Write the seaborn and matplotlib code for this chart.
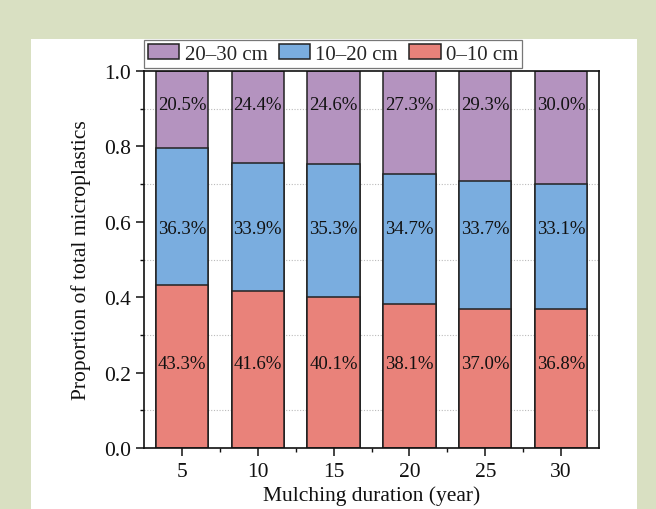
import numpy as np
import pandas as pd
import matplotlib
matplotlib.use("Agg")
import matplotlib.pyplot as plt
from matplotlib.patches import Patch, Rectangle
import seaborn as sns

# Mulching duration (years) and depth-layer shares of total microplastics
years = [5, 10, 15, 20, 25, 30]
share_0_10 = [0.433, 0.416, 0.401, 0.381, 0.370, 0.368]
share_10_20 = [0.363, 0.339, 0.353, 0.347, 0.337, 0.331]
share_20_30 = [0.205, 0.244, 0.246, 0.273, 0.293, 0.300]
layer_names = ["20\u201330 cm", "10\u201320 cm", "0\u201310 cm"]

colors = {"0-10": "#e9827a", "10-20": "#7aaddf", "20-30": "#b493bf"}

sns.set_theme(style="ticks")
plt.rcParams["font.family"] = ["Liberation Serif", "DejaVu Serif"]

fig = plt.figure(figsize=(6.56, 5.10), dpi=100, facecolor="#d9e0c2")
fig.patches.append(Rectangle((31 / 656, 0), (637 - 31) / 656, (510 - 40) / 510,
                             transform=fig.transFigure, facecolor="white",
                             edgecolor="none", zorder=-1))
ax = fig.add_axes([144 / 656, (510 - 449) / 510, (599 - 144) / 656, (449 - 72) / 510])
ax.set_facecolor("white")

df = pd.DataFrame({
    "year": years,
    "low": share_0_10,
    "mid": share_10_20,
    "high": share_20_30,
})
df["cum_mid"] = df["low"] + df["mid"]
df["cum_high"] = df["cum_mid"] + df["high"]

# stacked bars: draw cumulative totals back to front
for col, c in [("cum_high", colors["20-30"]), ("cum_mid", colors["10-20"]), ("low", colors["0-10"])]:
    sns.barplot(data=df, x="year", y=col, native_scale=True, width=0.69,
                color=c, saturation=1, edgecolor="#222222", linewidth=1.1,
                errorbar=None, ax=ax, zorder=2)

# percentage labels for each layer
lab_kw = dict(ha="center", va="center", fontsize=13.5, color="#111111", zorder=3)
for yr, a, b, c in zip(years, share_0_10, share_10_20, share_20_30):
    ax.text(yr, 0.225, f"{a * 100:.1f}%", **lab_kw)
    ax.text(yr, 0.581, f"{b * 100:.1f}%", **lab_kw)
    ax.text(yr, 0.910, f"{c * 100:.1f}%", **lab_kw)

ax.set_xlim(2.5, 32.5)
ax.set_ylim(0, 1.0)
ax.set_xticks(years)
ax.set_xticklabels([str(y) for y in years])
ax.set_xticks([7.5, 12.5, 17.5, 22.5, 27.5], minor=True)
ax.set_yticks([0.0, 0.2, 0.4, 0.6, 0.8, 1.0])
ax.set_yticklabels(["0.0", "0.2", "0.4", "0.6", "0.8", "1.0"])
ax.set_yticks([0.1, 0.3, 0.5, 0.7, 0.9], minor=True)

ax.grid(which="minor", axis="y", linestyle=(0, (1, 1.5)), color="#bbbbbb", linewidth=0.8, zorder=0)
ax.grid(which="major", visible=False)
ax.set_axisbelow(True)

for s in ax.spines.values():
    s.set_visible(True)
    s.set_color("#111111")
    s.set_linewidth(1.2)

ax.tick_params(axis="both", which="major", direction="out", length=6, width=1.1,
               labelsize=15.5, color="#111111", labelcolor="#111111")
ax.tick_params(axis="both", which="minor", direction="out", length=3, width=1.0, color="#111111")
ax.tick_params(axis="x", which="major", pad=4)

ax.set_xlabel("Mulching duration (year)", fontsize=15.5, color="#111111", labelpad=3)
ax.set_ylabel("Proportion of total microplastics", fontsize=15.5, color="#111111", labelpad=9)

handles = [Patch(facecolor=colors["20-30"], edgecolor="#222222", linewidth=1.1),
           Patch(facecolor=colors["10-20"], edgecolor="#222222", linewidth=1.1),
           Patch(facecolor=colors["0-10"], edgecolor="#222222", linewidth=1.1)]
leg = ax.legend(handles, layer_names, loc="lower left", bbox_to_anchor=(0.0, 1.008),
                ncol=3, frameon=True, fancybox=False, borderaxespad=0, fontsize=15,
                handlelength=1.5, handleheight=0.75, handletextpad=0.25, columnspacing=0.55,
                borderpad=0.2)
leg.get_frame().set_edgecolor("#555555")
leg.get_frame().set_linewidth(0.9)

fig.savefig("out.png", dpi=100, facecolor=fig.get_facecolor())
